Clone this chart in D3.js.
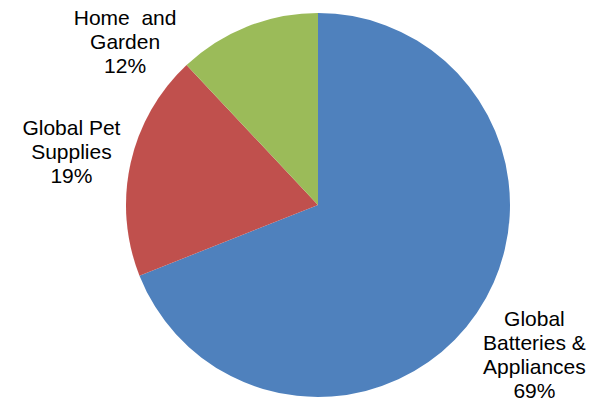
<!DOCTYPE html>
<html>
<head>
<meta charset="utf-8">
<script src="https://cdn.jsdelivr.net/npm/d3@7"></script>
<style>
  body { margin: 0; background: #fff; }
  text { font-family: "Liberation Sans", Arial, sans-serif; font-size: 21px; fill: #000; white-space: pre; }
</style>
</head>
<body>
<div id="chart"></div>
<script>
const categories = ["Global Batteries & Appliances", "Global Pet Supplies", "Home  and Garden"];
const labelLines = [["Global", "Batteries &", "Appliances"], ["Global Pet", "Supplies"], ["Home  and", "Garden"]];
const shares = [69, 19, 12];
const colors = ["#4f81bd", "#c0504d", "#9bbb59"];

const width = 598, height = 403;
const cx = 318, cy = 205, radius = 192;
const lineHeight = 24;
// nudges that move each label from its arc position to where it sits in the picture
const labelNudge = [[10, 10], [-3, 1.5], [-101, 69]];

const svg = d3.select("#chart").append("svg")
    .attr("width", width)
    .attr("height", height);

const g = svg.append("g").attr("transform", `translate(${cx},${cy})`);

const pie = d3.pie().sort(null).value((d) => d.value);
const arcs = pie(categories.map((c, i) => ({ name: c, value: shares[i], idx: i })));

const arc = d3.arc().innerRadius(0).outerRadius(radius);
const labelArc = d3.arc().innerRadius(radius * 1.3).outerRadius(radius * 1.3);

g.selectAll("path.slice")
    .data(arcs)
    .join("path")
    .attr("class", "slice")
    .attr("d", arc)
    .attr("fill", (d) => colors[d.data.idx]);

const labels = g.selectAll("text.label")
    .data(arcs)
    .join("text")
    .attr("class", "label")
    .attr("text-anchor", "middle");

labels.each(function (d) {
    const [x, y] = labelArc.centroid(d);
    const nudge = labelNudge[d.data.idx];
    const lines = labelLines[d.data.idx].concat([`${d.data.value}%`]);
    const lx = x + nudge[0];
    const ly = y + nudge[1];
    const first = ly - ((lines.length - 1) * lineHeight) / 2 + 7;
    d3.select(this).selectAll("tspan")
        .data(lines)
        .join("tspan")
        .attr("x", lx)
        .attr("y", (t, i) => first + i * lineHeight)
        .text((t) => t);
});
</script>
</body>
</html>
